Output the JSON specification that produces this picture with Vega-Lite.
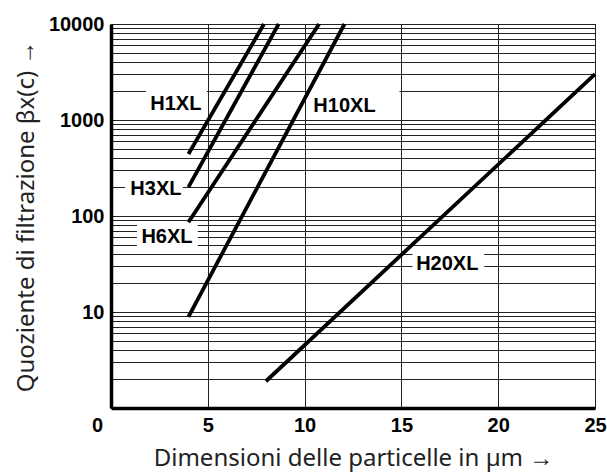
{
  "$schema": "https://vega.github.io/schema/vega-lite/v6.json",
  "autosize": "none",
  "width": 484,
  "height": 384,
  "padding": {"left": 111, "top": 24, "right": 12, "bottom": 66},
  "background": "white",
  "config": {
    "view": {"stroke": "black", "strokeWidth": 1},
    "axis": {
      "labelFont": "Liberation Sans",
      "labelFontWeight": "bold",
      "labelFontSize": 20,
      "labelColor": "black",
      "titleFont": "Noto Sans",
      "titleFontWeight": "normal",
      "titleFontSize": 24,
      "titleColor": "#222",
      "ticks": false,
      "domainColor": "black",
      "domainWidth": 3.5,
      "gridColor": "#222",
      "gridWidth": 1,
      "gridOpacity": 1
    }
  },
  "datasets": {
    "curves": [
      {"serie": "H1XL", "x": 4, "y": 443},
      {"serie": "H1XL", "x": 7.9, "y": 10000},
      {"serie": "H3XL", "x": 4, "y": 200},
      {"serie": "H3XL", "x": 8.66, "y": 10000},
      {"serie": "H6XL", "x": 4, "y": 86},
      {"serie": "H6XL", "x": 10.75, "y": 10000},
      {"serie": "H10XL", "x": 4, "y": 8.9},
      {"serie": "H10XL", "x": 12.06, "y": 10000},
      {"serie": "H20XL", "x": 8, "y": 1.9},
      {"serie": "H20XL", "x": 25, "y": 3000}
    ],
    "labels": [
      {"label": "H1XL", "x": 3.35, "y": 1468, "x1": 1.8, "x2": 4.95, "y1": 1075, "y2": 2316},
      {"label": "H3XL", "x": 2.32, "y": 191, "x1": 0.72, "x2": 3.71, "y1": 137, "y2": 267},
      {"label": "H6XL", "x": 2.89, "y": 60.4, "x1": 1.34, "x2": 4.48, "y1": 44.2, "y2": 82.5},
      {"label": "H10XL", "x": 12.06, "y": 1399, "x1": 10.1, "x2": 14.9, "y1": 1075, "y2": 2316},
      {"label": "H20XL", "x": 17.37, "y": 31.6, "x1": 15.57, "x2": 19.28, "y1": 22.1, "y2": 45.3}
    ]
  },
  "encoding": {
    "x": {
      "type": "quantitative",
      "scale": {"domain": [0, 25], "nice": false, "zero": false},
      "axis": {
        "title": "Dimensioni delle particelle in µm →",
        "values": [0, 5, 10, 15, 20, 25],
        "grid": true,
        "labelPadding": 7,
        "titlePadding": 11,
        "labelOverlap": false,
        "labelFlush": false,
        "labelOffset": {"expr": "datum.value == 0 ? -14 : 0"}
      }
    },
    "y": {
      "type": "quantitative",
      "scale": {"type": "log", "domain": [1, 10000], "nice": false},
      "axis": {
        "title": "Quoziente di filtrazione βx(c)  →",
        "values": [1,2,3,4,5,6,7,8,9,10,20,30,40,50,60,70,80,90,100,200,300,400,500,600,700,800,900,1000,2000,3000,4000,5000,6000,7000,8000,9000,10000],
        "labelExpr": "(datum.value == 10 || datum.value == 100 || datum.value == 1000 || datum.value == 10000) ? format(datum.value, 'd') : ''",
        "grid": true,
        "labelPadding": 7,
        "titlePadding": 10,
        "labelOverlap": false,
        "labelFlush": false
      }
    }
  },
  "layer": [
    {
      "data": {"name": "labels"},
      "mark": {"type": "rect", "color": "white", "strokeWidth": 0},
      "encoding": {
        "x": {"field": "x1"},
        "x2": {"field": "x2"},
        "y": {"field": "y1"},
        "y2": {"field": "y2"}
      }
    },
    {
      "data": {"name": "curves"},
      "mark": {"type": "line", "color": "black", "strokeWidth": 3.8, "strokeCap": "butt"},
      "encoding": {
        "x": {"field": "x"},
        "y": {"field": "y"},
        "detail": {"field": "serie"}
      }
    },
    {
      "data": {"name": "labels"},
      "mark": {"type": "text", "font": "Liberation Sans", "fontWeight": "bold", "fontSize": 20, "color": "black", "align": "center", "baseline": "middle"},
      "encoding": {
        "x": {"field": "x"},
        "y": {"field": "y"},
        "text": {"field": "label"}
      }
    }
  ]
}
